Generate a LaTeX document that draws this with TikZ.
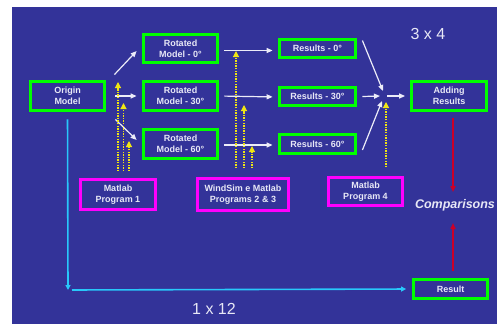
\documentclass[tikz,border=0pt]{standalone}
\usepackage{fontspec}
\setmainfont{Liberation Sans}
\usetikzlibrary{arrows.meta}
\definecolor{bgblue}{RGB}{51,51,153}
\definecolor{txt}{RGB}{232,232,246}
\definecolor{gbord}{RGB}{0,255,0}
\definecolor{mbord}{RGB}{255,0,255}
\definecolor{cyanl}{RGB}{40,200,250}
\definecolor{redl}{RGB}{204,0,40}
\definecolor{yell}{RGB}{240,230,20}
\definecolor{warrc}{RGB}{236,236,248}
\tikzset{
  gbox/.style={draw=gbord, line width=2.8pt, inner sep=0pt, align=center, text=txt,
    font=\fontsize{9}{11}\selectfont\bfseries},
  mbox/.style={draw=mbord, line width=2.8pt, inner sep=0pt, align=center, text=txt,
    font=\fontsize{9}{11}\selectfont\bfseries},
  warr/.style={draw=warrc, line width=1.2pt, -{Triangle[length=6pt,width=5pt]}},
  yarr/.style={draw=yell, line width=1.1pt, dash pattern=on 1.3pt off 1.3pt,
    -{Triangle[length=6pt,width=6pt,fill=yell]}},
  carr/.style={draw=cyanl, line width=1.6pt, -{Triangle[length=5pt,width=5pt]}},
  rarr/.style={draw=redl, line width=1.6pt, -{Triangle[length=6pt,width=5pt]}},
  big/.style={text=txt, font=\fontsize{16}{18}\selectfont},
}
\begin{document}
\begin{tikzpicture}[x=1pt,y=-1pt]
\useasboundingbox (0,0) rectangle (497,324);
\fill[white] (0,0) rectangle (497,324);
\fill[bgblue] (12,7) rectangle (497,324);

% green boxes
\node[gbox, minimum width=74pt, minimum height=29pt] (origin) at (67.5,96) {Origin\\Model};
\node[gbox, minimum width=74pt, minimum height=28pt] (rot0) at (180.5,48.5) {Rotated\\Model - 0°};
\node[gbox, minimum width=74pt, minimum height=29pt] (rot30) at (180.5,96) {Rotated\\Model - 30°};
\node[gbox, minimum width=74pt, minimum height=29pt] (rot60) at (180.5,144) {Rotated\\Model - 60°};
\node[gbox, minimum width=76pt, minimum height=18pt] (res0) at (317.5,48.5) {Results - 0°};
\node[gbox, minimum width=76pt, minimum height=18pt] (res30) at (317.5,96.5) {Results - 30°};
\node[gbox, minimum width=76pt, minimum height=19pt] (res60) at (317.5,144) {Results - 60°};
\node[gbox, minimum width=75pt, minimum height=29pt] (add) at (449,96) {Adding\\Results};
\node[gbox, minimum width=74pt, minimum height=19pt] (result) at (450.5,289) {Result};

% magenta boxes
\node[mbox, minimum width=75pt, minimum height=30pt] (mp1) at (118,194.5) {Matlab\\Program 1};
\node[mbox, minimum width=91pt, minimum height=32pt] (mp23) at (243,194.5) {WindSim e Matlab\\Programs 2 \& 3};
\node[mbox, minimum width=74pt, minimum height=28pt] (mp4) at (365.5,191.5) {Matlab\\Program 4};

% texts
\node[big] (t34) at (428,34) {3 x 4};
\node[big] (t112) at (214,309) {1 x 12};
\node[text=txt, font=\fontsize{12.5}{14}\selectfont\bfseries\itshape] (comp) at (455,205) {Comparisons};

% white arrows from origin
\draw[warr] ([shift={(8.5,-5.5)}]origin.north east) -- ([shift={(-5.5,2.5)}]rot0.west);
\draw[warr, shorten <=9.5pt, shorten >=5.5pt] (origin.east) -- (rot30.west);
\draw[warr] ([shift={(9.5,7.5)}]origin.south east) -- ([shift={(-5.5,-4)}]rot60.west);

% rotated -> results
\draw[warr, shorten <=5.5pt, shorten >=5.5pt] ([yshift=-2]rot0.east) -- ([yshift=-2]res0.west);
\draw[warr, shorten <=5.5pt, shorten >=5.5pt] (rot30.east) -- ([yshift=-0.5]res30.west);
\draw[warr, shorten <=5.5pt, shorten >=5.5pt] ([yshift=-1]rot60.east) -- ([yshift=-1]res60.west);

% results -> junction -> adding
\coordinate (J) at (384,96);
\draw[warr] ([shift={(5.5,-8)}]res0.east) -- ([shift={(-1,-5)}]J);
\draw[warr] ([xshift=5.5]res30.east) -- ([xshift=-4]J);
\draw[warr] ([shift={(5.5,6)}]res60.east) -- ([shift={(-2,5)}]J);
\draw[warr, shorten <=3pt, shorten >=5pt] (J) -- (add.west);

% yellow dotted arrows
\coordinate (y1a) at (118,82); \coordinate (y1b) at (123.5,103); \coordinate (y1c) at (129,141);
\coordinate (y2a) at (236,51); \coordinate (y2b) at (244,105); \coordinate (y2c) at (252,146);
\coordinate (y3a) at (386,102);
\draw[yarr] (mp1.north -| y1a) ++(0,-7) -- (y1a);
\draw[yarr] (mp1.north -| y1b) ++(0,-7) -- (y1b);
\draw[yarr] (mp1.north -| y1c) ++(0,-7) -- (y1c);
\draw[yarr] (mp23.north -| y2a) ++(0,-9) -- (y2a);
\draw[yarr] (mp23.north -| y2b) ++(0,-9) -- (y2b);
\draw[yarr] (mp23.north -| y2c) ++(0,-9) -- (y2c);
\draw[yarr] (mp4.north -| y3a) ++(0,-9) -- (y3a);

% cyan
\coordinate (corner) at (68,290);
\draw[carr, shorten <=7.5pt] (origin.south) -- (corner);
\draw[carr, shorten <=4pt, shorten >=6pt] (corner) -- (result.west);

% red
\coordinate (ct) at (453,192);
\coordinate (cb) at (453,223);
\draw[rarr, shorten <=6.5pt] ([xshift=4]add.south) -- (ct);
\draw[rarr, shorten <=7pt] ([xshift=2.5]result.north) -- (cb);
\end{tikzpicture}
\end{document}
